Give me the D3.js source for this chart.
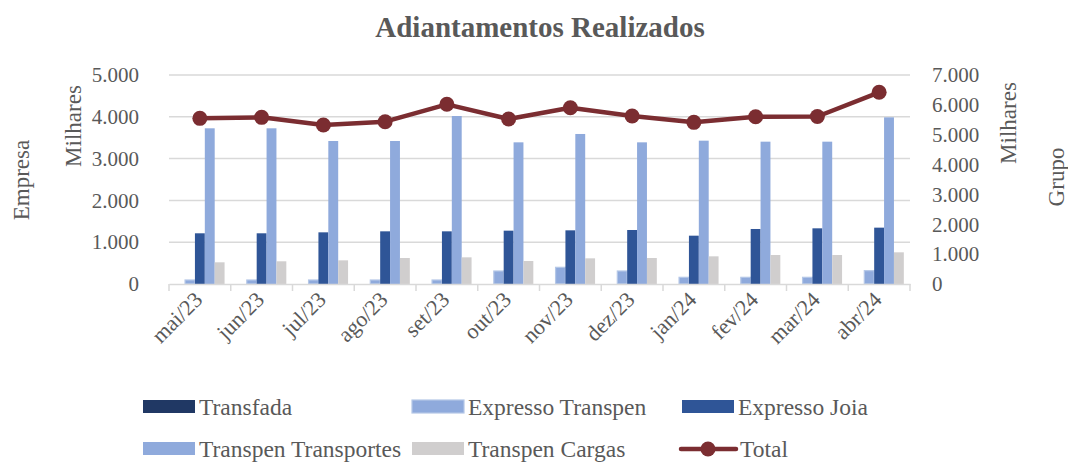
<!DOCTYPE html>
<html>
<head>
<meta charset="utf-8">
<script src="https://cdn.jsdelivr.net/npm/d3@7"></script>
<style>
  body { margin: 0; background: #fff; }
  text { font-family: "Liberation Serif", "DejaVu Serif", serif; fill: #595959; }
</style>
</head>
<body>
<div id="chart"></div>
<script>
// months
const months = ["mai/23", "jun/23", "jul/23", "ago/23", "set/23", "out/23",
  "nov/23", "dez/23", "jan/24", "fev/24", "mar/24", "abr/24"];

// series values (in thousands)
const transfada = [0, 0, 0, 0, 0, 0, 0, 0, 0, 0, 0, 0];
const expressoTranspen = [96, 96, 96, 96, 96, 311, 399, 311, 160, 160, 160, 319];
const expressoJoia = [1213, 1213, 1236, 1260, 1260, 1276, 1284, 1292, 1156, 1316, 1332, 1348];
const transpenTransportes = [3725, 3725, 3421, 3421, 4019, 3389, 3589, 3389, 3429, 3405, 3405, 3987];
const transpenCargas = [519, 543, 566, 622, 638, 550, 614, 622, 662, 694, 694, 758];
const total = [5549, 5582, 5325, 5436, 6018, 5526, 5905, 5626, 5414, 5604, 5610, 6420];

// tick labels
const leftTicks = [0, 1000, 2000, 3000, 4000, 5000];
const rightTicks = [0, 1000, 2000, 3000, 4000, 5000, 6000, 7000];

const seriesNames = ["Transfada", "Expresso Transpen", "Expresso Joia", "Transpen Transportes", "Transpen Cargas"];
const seriesData = [transfada, expressoTranspen, expressoJoia, transpenTransportes, transpenCargas];
const seriesColors = ["#203864", "#8FAADC", "#2F5597", "#8FAADC", "#D0CECE"];
const seriesStroke = [null, "#B4C7E7", null, null, null];
const lineColor = "#7B2D31";

const fmt = v => d3.format(",")(v).replace(/,/g, ".");

let svg = d3.select("#chart").append("svg")
  .attr("width", 1068)
  .attr("height", 462);

// scales
let x0 = d3.scaleBand().domain(months).range([169, 910]).paddingInner(0).paddingOuter(0);
let x1 = d3.scaleBand().domain(seriesNames)
  .range([x0.bandwidth() * 0.1, x0.bandwidth() * 0.9]);
let yLeft = d3.scaleLinear().domain([0, 5000]).range([284, 75]);
let yRight = d3.scaleLinear().domain([0, 7000]).range([284, 75]);

// title
svg.append("text")
  .attr("x", 540).attr("y", 37)
  .attr("text-anchor", "middle")
  .style("font-size", "29px")
  .style("font-weight", "bold")
  .text("Adiantamentos Realizados");

// gridlines
svg.append("g")
  .selectAll("line")
  .data(leftTicks.slice(1))
  .enter()
  .append("line")
  .attr("x1", 169).attr("x2", 910)
  .attr("y1", d => yLeft(d)).attr("y2", d => yLeft(d))
  .attr("stroke", "#D9D9D9")
  .attr("stroke-width", 1.5);

// left axis
let gLeft = svg.append("g")
  .attr("transform", "translate(139,0)")
  .call(d3.axisLeft(yLeft).tickValues(leftTicks).tickSize(0).tickPadding(0).tickFormat(fmt));
gLeft.select(".domain").remove();
gLeft.selectAll("text")
  .style("font-size", "21px")
  .style("font-family", "'Liberation Serif', serif")
  .attr("fill", "#595959");

// right axis
let gRight = svg.append("g")
  .attr("transform", "translate(932,0)")
  .call(d3.axisRight(yRight).tickValues(rightTicks).tickSize(0).tickPadding(0).tickFormat(fmt));
gRight.select(".domain").remove();
gRight.selectAll("text")
  .style("font-size", "21px")
  .style("font-family", "'Liberation Serif', serif")
  .attr("fill", "#595959");

// axis titles
function vLabel(x, y, txt) {
  svg.append("text")
    .attr("transform", "translate(" + x + "," + y + ") rotate(-90)")
    .attr("text-anchor", "middle")
    .attr("dominant-baseline", "central")
    .style("font-size", "23px")
    .text(txt);
}
vLabel(73, 126, "Milhares");
vLabel(21, 180, "Empresa");
vLabel(1008, 123, "Milhares");
vLabel(1056, 177, "Grupo");

// bars
months.forEach(function (m, i) {
  svg.append("g")
    .selectAll("rect")
    .data(seriesNames)
    .enter()
    .append("rect")
    .attr("x", (s) => x0(m) + x1(s))
    .attr("width", x1.bandwidth())
    .attr("y", (s, j) => yLeft(seriesData[j][i]))
    .attr("height", (s, j) => yLeft(0) - yLeft(seriesData[j][i]))
    .attr("fill", (s, j) => seriesColors[j])
    .attr("stroke", (s, j) => seriesStroke[j])
    .attr("stroke-width", 1.2);
});

// x axis
let gx = svg.append("g")
  .attr("transform", "translate(0,284)")
  .call(d3.axisBottom(x0).tickSize(0).tickFormat(""));
gx.select(".domain").attr("stroke", "#D9D9D9").attr("stroke-width", 1.5);
gx.selectAll(".tick").remove();
svg.append("g")
  .selectAll("line")
  .data(d3.range(months.length + 1))
  .enter()
  .append("line")
  .attr("x1", i => 169 + i * x0.step()).attr("x2", i => 169 + i * x0.step())
  .attr("y1", 284).attr("y2", 291)
  .attr("stroke", "#D9D9D9")
  .attr("stroke-width", 1.5);

svg.append("g")
  .selectAll("text")
  .data(months)
  .enter()
  .append("text")
  .attr("transform", d => "translate(" + (x0(d) + x0.bandwidth() / 2 + 4) + ",301) rotate(-45)")
  .attr("text-anchor", "end")
  .style("font-size", "22px")
  .text(d => d);

// total line
let line = d3.line()
  .x((d, i) => x0(months[i]) + x0.bandwidth() / 2)
  .y(d => yRight(d));
svg.append("path")
  .datum(total)
  .attr("d", line)
  .attr("fill", "none")
  .attr("stroke", lineColor)
  .attr("stroke-width", 4.5)
  .attr("stroke-linejoin", "round");
svg.append("g")
  .selectAll("circle")
  .data(total)
  .enter()
  .append("circle")
  .attr("cx", (d, i) => x0(months[i]) + x0.bandwidth() / 2)
  .attr("cy", d => yRight(d))
  .attr("r", 7.5)
  .attr("fill", lineColor);

// legend
const legendPos = [[143, 407], [412, 407], [682, 407], [143, 449], [412, 449]];
seriesNames.forEach(function (s, j) {
  let p = legendPos[j];
  svg.append("rect")
    .attr("x", p[0]).attr("y", p[1] - 7)
    .attr("width", 52).attr("height", 13)
    .attr("fill", seriesColors[j])
    .attr("stroke", seriesStroke[j])
    .attr("stroke-width", 1.2);
  svg.append("text")
    .attr("x", p[0] + 56).attr("y", p[1])
    .attr("dominant-baseline", "central")
    .style("font-size", "23.5px")
    .text(s);
});
svg.append("line")
  .attr("x1", 681).attr("x2", 736)
  .attr("y1", 449).attr("y2", 449)
  .attr("stroke", lineColor)
  .attr("stroke-width", 4.5)
  .attr("stroke-linecap", "round");
svg.append("circle")
  .attr("cx", 708).attr("cy", 449).attr("r", 7.5)
  .attr("fill", lineColor);
svg.append("text")
  .attr("x", 740).attr("y", 449)
  .attr("dominant-baseline", "central")
  .style("font-size", "23.5px")
  .text("Total");
</script>
</body>
</html>
